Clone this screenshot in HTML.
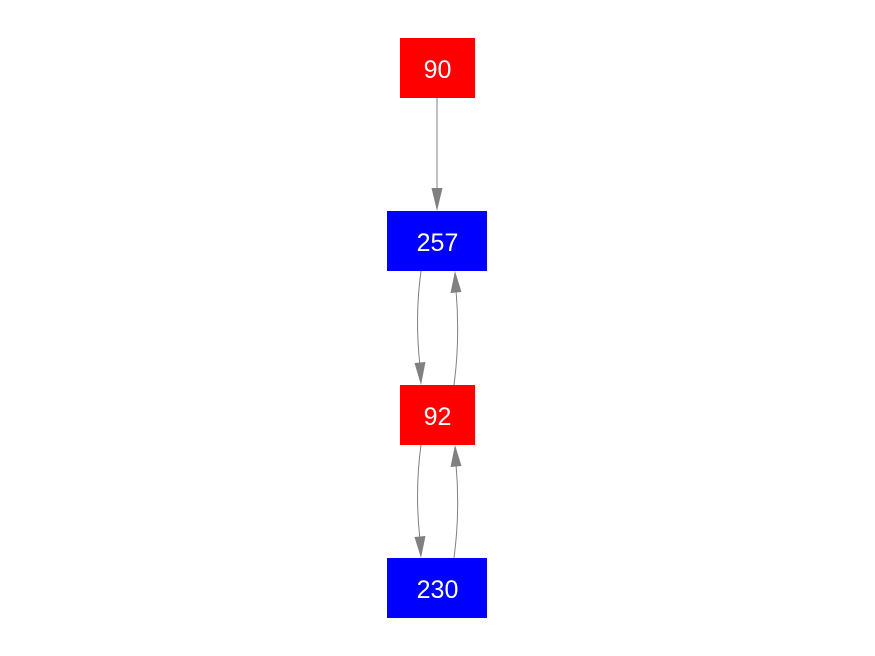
<!DOCTYPE html>
<html><head><style>html,body{margin:0;padding:0;background:#fff;}svg{display:block;}</style></head>
<body>
<svg width="875" height="656" viewBox="0 0 875 656" xmlns="http://www.w3.org/2000/svg">
<g fill="none" stroke="#808080" stroke-width="1">
<path d="M437,98 L437,192"/>
<path d="M421,271 C417,300 416,330 420,366"/>
<path d="M454,385 C458,355 459,325 456,290"/>
<path d="M421,445 C417,474 416,504 420,540"/>
<path d="M454,558 C458,528 459,498 456,464"/>
</g>
<g fill="#808080">
<polygon points="431.5,188 437,211 442.5,188"/>
<polygon points="414.5,363 421,385 425.5,362"/>
<polygon points="450.5,293 455,271 461.5,292"/>
<polygon points="414.5,537 421,558 425.5,536"/>
<polygon points="450.5,467 455,445 461.5,466"/>
</g>
<rect x="400" y="38" width="75" height="60" fill="#ff0000"/>
<rect x="387" y="211" width="100" height="60" fill="#0000ff"/>
<rect x="400" y="385" width="75" height="60" fill="#ff0000"/>
<rect x="387" y="558" width="100" height="60" fill="#0000ff"/>
<g fill="#fff" font-family="Liberation Sans, Arial, sans-serif" font-size="25" text-anchor="middle">
<text x="437.5" y="78">90</text>
<text x="437.5" y="251">257</text>
<text x="437.5" y="425">92</text>
<text x="437.5" y="598">230</text>
</g>
</svg>
</body></html>
